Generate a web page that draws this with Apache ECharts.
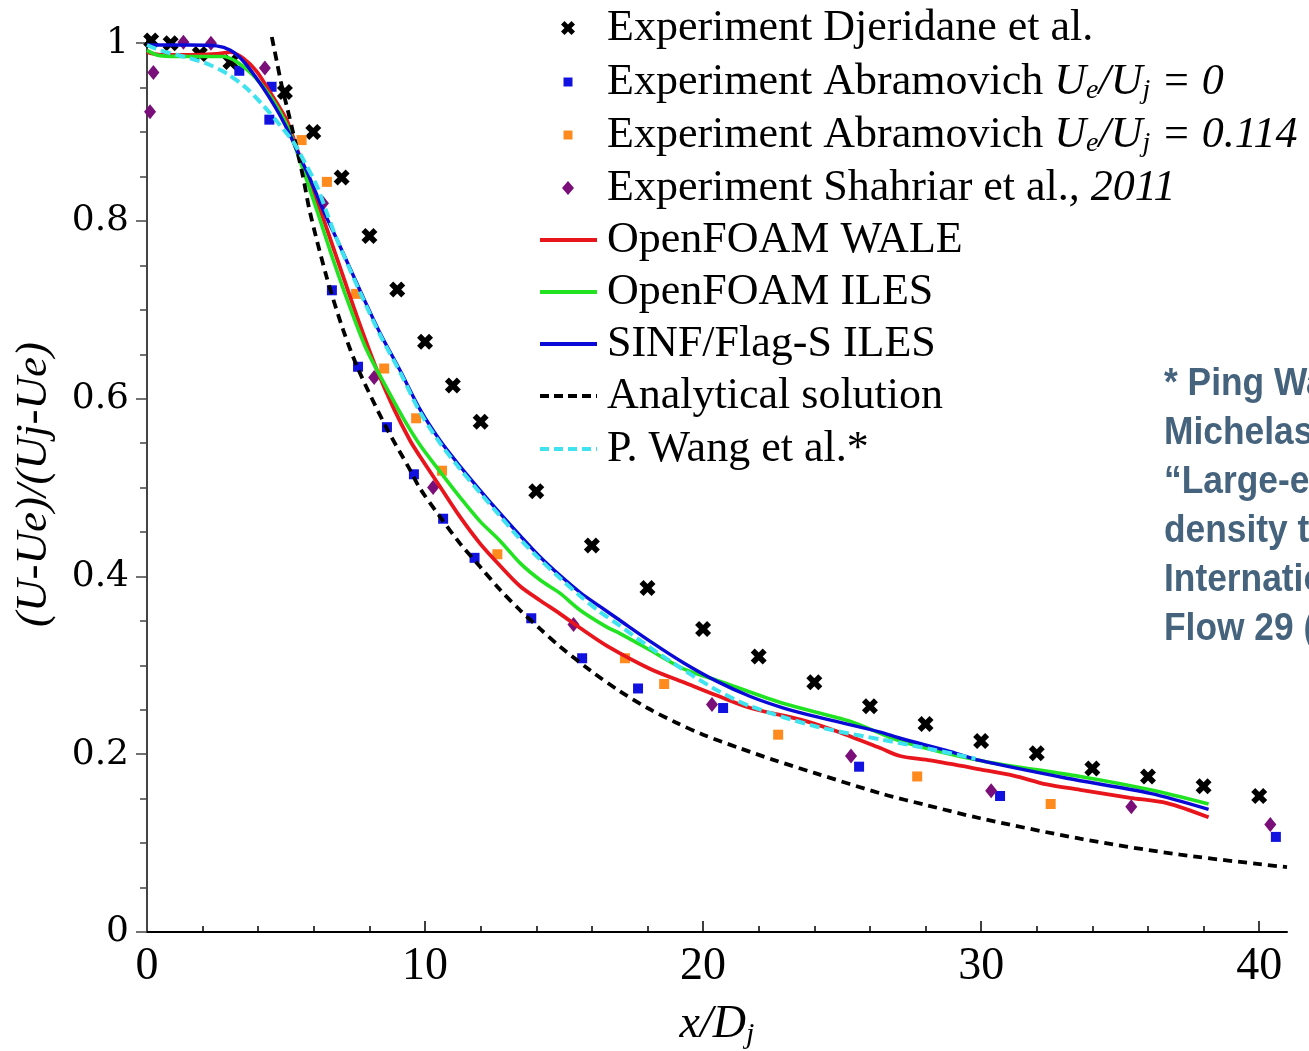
<!DOCTYPE html>
<html>
<head>
<meta charset="utf-8">
<script src="https://cdn.jsdelivr.net/npm/echarts@6/dist/echarts.min.js"></script>
<style>
  html, body { margin: 0; padding: 0; background: #fff; }
  #chart { width: 1309px; height: 1051px; }
</style>
</head>
<body>
<div id="chart"></div>
<script>
// Centreline velocity decay of a round jet: measurements, LES runs and the analytical law.
// Each point is [x/Dj, (U-Ue)/(Uj-Ue)].

const djeridane = [[0.15,1.003],[0.85,1.0],[1.9,0.988],[3.0,0.979],[4.96,0.945],[5.98,0.9],[7,0.849],[8,0.783],[9,0.723],[10,0.664],[11,0.615],[12,0.574],[14,0.496],[16,0.435],[18,0.387],[20,0.341],[22,0.31],[24,0.281],[26,0.254],[28,0.234],[30,0.215],[32,0.201],[34,0.184],[36,0.175],[38,0.164],[40,0.153]];

const abramovich0 = [[3.32,0.969],[4.48,0.951],[4.4,0.914],[6.65,0.722],[7.59,0.636],[8.63,0.568],[9.6,0.515],[10.65,0.465],[11.78,0.421],[13.82,0.353],[15.65,0.308],[17.66,0.274],[20.72,0.252],[25.61,0.186],[30.68,0.153],[40.6,0.107]];

const abramovich114 = [[5.56,0.891],[6.47,0.844],[7.52,0.718],[8.53,0.634],[9.68,0.578],[10.61,0.519],[12.6,0.425],[17.19,0.308],[18.6,0.279],[22.7,0.222],[27.7,0.175],[32.5,0.144]];

const shahriar = [[0.11,0.923],[0.23,0.967],[1.31,1.001],[2.3,1.0],[4.24,0.972],[6.33,0.82],[8.17,0.624],[10.29,0.5],[15.34,0.346],[20.32,0.256],[25.32,0.198],[30.36,0.159],[35.4,0.141],[40.4,0.121]];

const foamWale = [[0,0.990],[0.5,0.987],[1.5,0.987],[2.5,0.988],[3.0,0.990],[3.46,0.983],[3.95,0.968],[4.42,0.945],[4.78,0.927],[5.05,0.912],[5.5,0.872],[6.0,0.832],[6.46,0.792],[7.06,0.737],[7.66,0.683],[8.26,0.633],[8.86,0.590],[9.46,0.553],[9.82,0.535],[10.54,0.501],[11.26,0.467],[11.98,0.437],[12.7,0.412],[13.42,0.389],[14.14,0.373],[14.86,0.358],[15.58,0.342],[16.54,0.322],[18.1,0.296],[19.3,0.281],[20.5,0.266],[21.7,0.252],[23.5,0.239],[24.7,0.227],[26.37,0.207],[27.09,0.198],[28.17,0.193],[29.96,0.183],[31.16,0.176],[32.36,0.166],[33.56,0.160],[35.36,0.151],[36.68,0.145],[38.18,0.129]];

const foamIles = [[0,0.992],[0.47,0.986],[1.5,0.985],[2.74,0.985],[3.23,0.979],[3.82,0.964],[4.42,0.941],[5.03,0.908],[5.5,0.868],[6.1,0.813],[6.7,0.756],[7.3,0.703],[7.9,0.655],[8.5,0.619],[9.22,0.578],[9.82,0.548],[10.54,0.518],[11.26,0.489],[11.98,0.462],[12.7,0.440],[13.42,0.415],[14.14,0.396],[14.86,0.381],[15.58,0.362],[16.54,0.343],[17.0,0.336],[18.1,0.317],[19.3,0.296],[20.7,0.281],[22.9,0.257],[25.3,0.237],[27.09,0.215],[29.96,0.193],[33.56,0.175],[36.08,0.160],[38.18,0.144]];

const sinfIles = [[0,0.998],[1.5,0.998],[2.5,0.997],[3.0,0.992],[3.46,0.980],[3.95,0.960],[4.42,0.938],[4.78,0.919],[5.14,0.897],[5.5,0.872],[5.86,0.848],[6.34,0.812],[6.82,0.780],[7.66,0.722],[8.38,0.674],[9.1,0.632],[9.82,0.588],[10.54,0.553],[11.26,0.524],[11.98,0.497],[12.7,0.471],[13.42,0.446],[14.14,0.422],[14.86,0.401],[15.58,0.382],[16.3,0.366],[16.9,0.353],[18.1,0.327],[19.29,0.303],[20.5,0.282],[21.7,0.265],[22.9,0.252],[24.1,0.242],[26.37,0.225],[27.09,0.218],[28.9,0.203],[29.96,0.193],[33.08,0.173],[36.08,0.156],[38.18,0.138]];

const analytical = [[4.49,1.007],[4.67,0.979],[4.84,0.953],[5.06,0.925],[5.25,0.900],[5.61,0.850],[5.86,0.810],[6.46,0.737],[7.06,0.677],[7.6,0.633],[8.6,0.568],[9.46,0.520],[9.82,0.499],[10.54,0.467],[11.26,0.437],[11.98,0.411],[12.7,0.385],[13.42,0.362],[14.14,0.341],[14.86,0.321],[16.0,0.293],[17.0,0.271],[18.0,0.252],[19.0,0.236],[20.0,0.222],[21.3,0.207],[22.5,0.194],[24.0,0.179],[26.49,0.155],[28.0,0.143],[29.96,0.128],[33.56,0.105],[37.16,0.087],[41.0,0.073]];

const wang = [[0,0.998],[0.47,0.992],[1.55,0.983],[2.15,0.977],[2.87,0.966],[3.59,0.949],[4.18,0.930],[4.78,0.908],[5.26,0.889],[5.5,0.876],[6.1,0.840],[6.46,0.810],[6.82,0.780],[7.66,0.720],[8.38,0.672],[9.1,0.630],[9.82,0.585],[10.54,0.550],[11.26,0.521],[11.98,0.494],[12.7,0.468],[13.42,0.442],[14.14,0.419],[14.86,0.398],[15.58,0.378],[16.3,0.360],[16.9,0.347],[18.1,0.320],[19.3,0.295],[20.5,0.272],[21.7,0.254],[24.1,0.231],[26.5,0.216],[28.3,0.205],[29.8,0.195]];

// Tick positions
const xMajorTicks = [10, 20, 30, 40];
const xTickLabels = [0, 10, 20, 30, 40];
const xMinorTicks = [2, 4, 6, 8, 12, 14, 16, 18, 22, 24, 26, 28, 32, 34, 36, 38];
const yMajorTicks = [0, 0.2, 0.4, 0.6, 0.8, 1];
const yMinorTicks = [0.05, 0.1, 0.15, 0.25, 0.3, 0.35, 0.45, 0.5, 0.55, 0.65, 0.7, 0.75, 0.85, 0.9, 0.95];

// Legend entries (rich text keys: it = italic, sub = italic subscript)
const legendLabels = [
  'Experiment Djeridane et al.',
  'Experiment Abramovich {it|U}{sub|e}{it|/U}{sub|j}{it| = 0}',
  'Experiment Abramovich {it|U}{sub|e}{it|/U}{sub|j}{it| = 0.114}',
  'Experiment Shahriar et al.{it|, 2011}',
  'OpenFOAM WALE',
  'OpenFOAM ILES',
  'SINF/Flag-S ILES',
  'Analytical solution',
  'P. Wang et al.*'
];

const referenceNote = [
  '* Ping Wang, J. Fr\u00f6hlich, V.',
  'Michelassi, W. Rodi,',
  '\u201cLarge-eddy simulation of variable-',
  'density turbulent axisymmetric jets\u201d,',
  'International Journal of Heat and Fluid',
  'Flow 29 (2008) 654\u2013664'
];

const SERIF = 'Liberation Serif';
// Bold "x" marker outline on a 10x10 box
const CROSS_PTS = [[0,2.5],[2.5,0],[5,2.5],[7.5,0],[10,2.5],[7.5,5],[10,7.5],[7.5,10],[5,7.5],[2.5,10],[0,7.5],[2.5,5]];
const CROSS = 'M' + CROSS_PTS.map(function (p) { return p[0] + ',' + p[1]; }).join(' L') + ' Z';

const C = {
  black: '#000000', blueSq: '#1212e0', orange: '#ff8a1e', purple: '#7a0f7a',
  red: '#e8161c', green: '#22e322', blue: '#0a0ad6', cyan: '#3fe3f0'
};

const richStyles = {
  it:  { fontStyle: 'italic', fontSize: 44, fontFamily: SERIF, fill: '#000', color: '#000' },
  sub: { fontStyle: 'italic', fontSize: 28, fontFamily: SERIF, fill: '#000', color: '#000', padding: [18, 0, 0, 0] }
};

// Legend drawn as graphic elements
const legendRowY = [28, 82, 135, 188, 240, 292, 344, 396, 449];
const keyX = 568;
const legendGraphics = [];
legendLabels.forEach(function (label, i) {
  legendGraphics.push({
    type: 'text', x: 607, y: legendRowY[i], z: 10,
    style: {
      text: label, fontSize: 44, fontFamily: SERIF, fill: '#000',
      align: 'left', verticalAlign: 'middle', textAlign: 'left', textVerticalAlign: 'middle',
      rich: richStyles
    }
  });
});
legendGraphics.push(
  { type: 'polygon', z: 10, shape: { points: CROSS_PTS.map(function (p) { return [keyX - 7 + p[0] * 1.4, legendRowY[0] - 7 + p[1] * 1.4]; }) }, style: { fill: C.black } },
  { type: 'rect', z: 10, shape: { x: keyX - 4.5, y: legendRowY[1] - 4.5, width: 9, height: 9 }, style: { fill: C.blueSq } },
  { type: 'rect', z: 10, shape: { x: keyX - 4.5, y: legendRowY[2] - 4.5, width: 9, height: 9 }, style: { fill: C.orange } },
  { type: 'polygon', z: 10, shape: { points: [[keyX, legendRowY[3] - 7], [keyX + 6, legendRowY[3]], [keyX, legendRowY[3] + 7], [keyX - 6, legendRowY[3]]] }, style: { fill: C.purple } }
);
const keyLines = [
  { color: C.red, dash: null },
  { color: C.green, dash: null },
  { color: C.blue, dash: null },
  { color: C.black, dash: [9, 5] },
  { color: C.cyan, dash: [9, 5] }
];
keyLines.forEach(function (k, i) {
  const y = legendRowY[4 + i];
  const el = {
    type: 'line', z: 10,
    shape: { x1: 540, y1: y, x2: 597, y2: y },
    style: { stroke: k.color, lineWidth: 4 }
  };
  if (k.dash) el.style.lineDash = k.dash;
  legendGraphics.push(el);
});

legendGraphics.push({
  type: 'text', x: 1164, y: 360, scaleX: 0.93, z: 10,
  style: {
    text: referenceNote.join('\n'), fontSize: 38, fontWeight: 'bold', fontFamily: 'Liberation Sans',
    fill: '#45637c', lineHeight: 49, align: 'left', verticalAlign: 'top', textAlign: 'left', textVerticalAlign: 'top'
  }
});

function scatter(name, data, symbol, size, color) {
  return { type: 'scatter', name: name, data: data, symbol: symbol, symbolSize: size,
    itemStyle: { color: color, opacity: 1 }, z: 2, clip: false, silent: true };
}
function curve(name, data, color, width, dash) {
  return { type: 'line', name: name, data: data, symbol: 'none', smooth: 0.3, clip: false, z: 3,
    lineStyle: { color: color, width: width, type: dash || 'solid', cap: 'butt' }, silent: true };
}

const option = {
  animation: false,
  backgroundColor: '#ffffff',
  grid: { left: 147, right: 22, top: 37, bottom: 119, containLabel: false, outerBoundsMode: 'none', show: false },
  xAxis: [
    {
      type: 'value', min: 0, max: 41, position: 'bottom',
      axisLine: { show: true, onZero: false, lineStyle: { color: '#000', width: 2 } },
      axisTick: { show: true, inside: true, length: 11, customValues: xMajorTicks, lineStyle: { color: '#000', width: 1.5 } },
      axisLabel: { show: true, customValues: xTickLabels, margin: 12, fontFamily: SERIF, fontSize: 46, color: '#000' },
      splitLine: { show: false },
      name: 'x/D{sub|j}', nameLocation: 'middle', nameGap: 68,
      nameTextStyle: {
        fontFamily: SERIF, fontStyle: 'italic', fontSize: 46, color: '#000',
        rich: { sub: { fontFamily: SERIF, fontStyle: 'italic', fontSize: 30, color: '#000', padding: [20, 0, 0, 0] } }
      }
    },
    {
      type: 'value', min: 0, max: 41, position: 'bottom',
      axisLine: { show: false, onZero: false },
      axisTick: { show: true, inside: true, length: 6, customValues: xMinorTicks, lineStyle: { color: '#000', width: 1.5 } },
      axisLabel: { show: false },
      splitLine: { show: false }
    }
  ],
  yAxis: [
    {
      type: 'value', min: 0, max: 1.007, position: 'left',
      axisLine: { show: true, onZero: false, lineStyle: { color: '#444', width: 2 } },
      axisTick: { show: true, inside: false, length: 11, customValues: yMajorTicks, lineStyle: { color: '#444', width: 1.5 } },
      axisLabel: { show: true, customValues: yMajorTicks, margin: 18, fontFamily: 'DejaVu Serif', fontSize: 36, color: '#000' },
      splitLine: { show: false },
      name: '(U-Ue)/(Uj-Ue)', nameLocation: 'middle', nameRotate: 90, nameGap: 90,
      nameTextStyle: { fontFamily: SERIF, fontStyle: 'italic', fontSize: 45, color: '#000' }
    },
    {
      type: 'value', min: 0, max: 1.007, position: 'left',
      axisLine: { show: false, onZero: false },
      axisTick: { show: true, inside: false, length: 7, customValues: yMinorTicks, lineStyle: { color: '#444', width: 1.5 } },
      axisLabel: { show: false },
      splitLine: { show: false }
    }
  ],
  series: [
    scatter('Experiment Djeridane et al.', djeridane, 'path://' + CROSS, 16, C.black),
    scatter('Experiment Abramovich Ue/Uj = 0', abramovich0, 'rect', 10, C.blueSq),
    scatter('Experiment Abramovich Ue/Uj = 0.114', abramovich114, 'rect', 10, C.orange),
    scatter('Experiment Shahriar et al., 2011', shahriar, 'diamond', [12, 15], C.purple),
    curve('OpenFOAM WALE', foamWale, C.red, 3.8),
    curve('OpenFOAM ILES', foamIles, C.green, 3.6),
    curve('SINF/Flag-S ILES', sinfIles, C.blue, 3.4),
    curve('Analytical solution', analytical, C.black, 3.8, [9, 6]),
    curve('P. Wang et al.*', wang, C.cyan, 4, [10, 5])
  ],
  graphic: legendGraphics
};

const chart = echarts.init(document.getElementById('chart'), null, { renderer: 'canvas' });
chart.setOption(option);
</script>
</body>
</html>
